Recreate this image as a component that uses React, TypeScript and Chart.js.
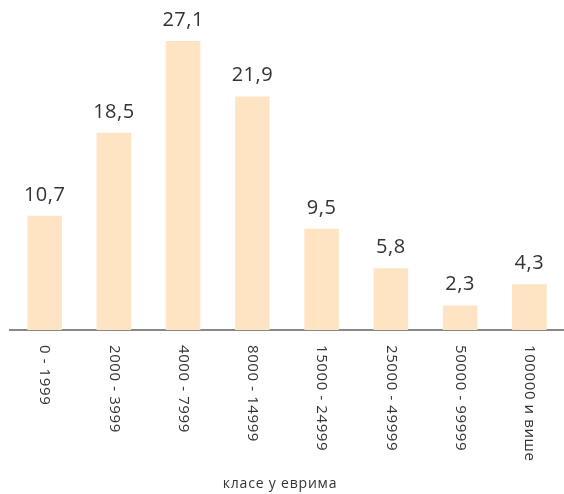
import React, { useEffect, useRef } from "react";
import { Chart, registerables } from "chart.js";

Chart.register(...registerables);

const categories = [
  "0 - 1999",
  "2000 - 3999",
  "4000 - 7999",
  "8000 - 14999",
  "15000 - 24999",
  "25000 - 49999",
  "50000 - 99999",
  "100000 и више",
];
const values = [10.7, 18.5, 27.1, 21.9, 9.5, 5.8, 2.3, 4.3];
const axisTitle = "класе у еврима";

const FONT = "'Open Sans', sans-serif";

const customLabels = {
  id: "customLabels",
  afterDatasetsDraw(chart: any) {
    const ctx = chart.ctx;
    const meta = chart.getDatasetMeta(0);
    const xScale = chart.scales.x;
    const area = chart.chartArea;
    ctx.save();
    // value labels
    ctx.fillStyle = "#333333";
    ctx.font = `20px ${FONT}`;
    ctx.letterSpacing = "0.5px";
    ctx.textAlign = "center";
    ctx.textBaseline = "alphabetic";
    meta.data.forEach((bar: any, i: number) => {
      ctx.fillText(values[i].toFixed(1).replace(".", ","), bar.x, bar.y - 15);
    });
    // category labels rotated clockwise
    ctx.font = `15px ${FONT}`;
    ctx.letterSpacing = "0.6px";
    ctx.fillStyle = "#333333";
    categories.forEach((c, i) => {
      const x = xScale.getPixelForValue(i);
      ctx.save();
      ctx.translate(x, area.bottom + 15);
      ctx.rotate(Math.PI / 2);
      ctx.textAlign = "left";
      ctx.textBaseline = "middle";
      ctx.fillText(c, 0, 0);
      ctx.restore();
    });
    // axis title
    ctx.font = `14px ${FONT}`;
    ctx.letterSpacing = "0.8px";
    ctx.textAlign = "center";
    ctx.textBaseline = "middle";
    ctx.fillText(axisTitle, 280, 484);
    ctx.restore();
  },
};

export default function App() {
  const ref = useRef<HTMLCanvasElement>(null);
  useEffect(() => {
    if (!ref.current) return;
    const chart = new Chart(ref.current, {
      type: "bar",
      data: {
        labels: categories,
        datasets: [
          {
            data: values,
            backgroundColor: "#FFE4C4",
            borderWidth: 0,
            barPercentage: 0.5,
            categoryPercentage: 1,
          },
        ],
      },
      options: {
        animation: false,
        responsive: false,
        maintainAspectRatio: false,
        layout: { padding: { left: 10, right: 0, top: 10, bottom: 0 } },
        plugins: {
          legend: { display: false },
          tooltip: { enabled: false },
        },
        scales: {
          x: {
            grid: { display: false, drawTicks: false },
            border: { display: true, color: "#888888", width: 2 },
            ticks: { display: false },
            afterFit: (scale: any) => {
              scale.height = 164;
            },
          },
          y: {
            display: false,
            min: 0,
            max: 30,
          },
        },
      },
      plugins: [customLabels],
    });
    return () => chart.destroy();
  }, []);
  return (
    <div style={{ position: "fixed", left: 0, top: 0, width: 564, height: 494, background: "#fff" }}>
      <canvas ref={ref} width={564} height={494} style={{ width: 564, height: 494 }} />
    </div>
  );
}
